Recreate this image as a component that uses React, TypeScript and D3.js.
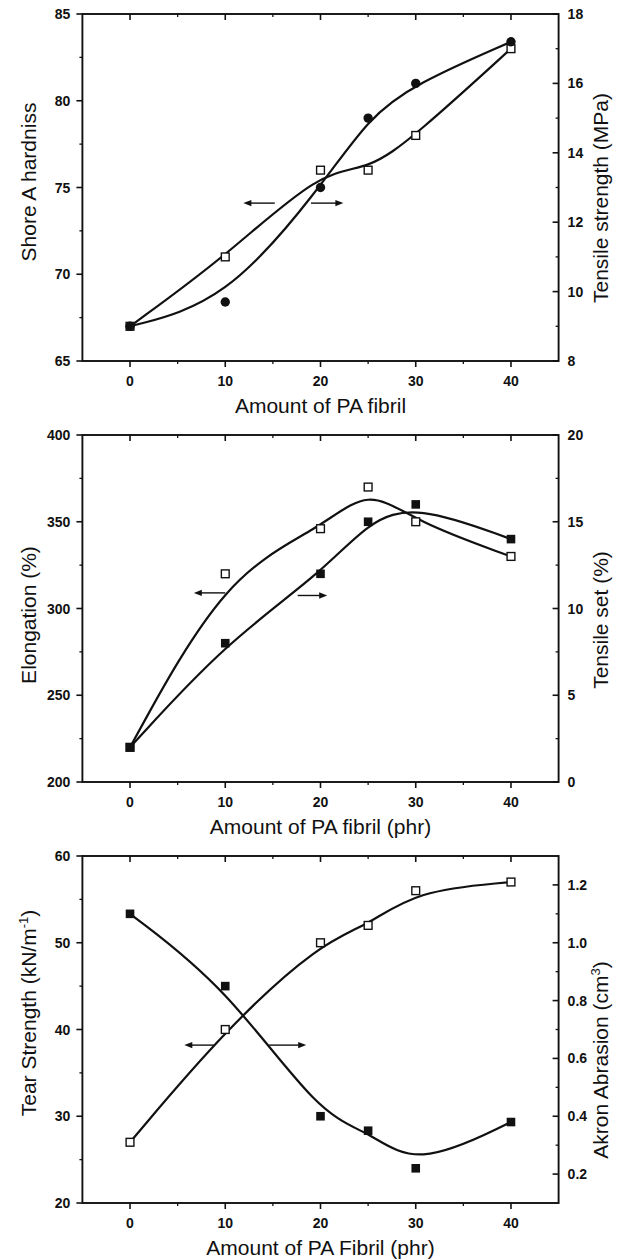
import React from 'react'
import * as d3 from 'd3'

// amount of PA fibril (phr)
const fibril = [0, 10, 20, 25, 30, 40]

// panel 1
const hardness = [67, 71, 76, 76, 78, 83]
const tensileStrength = [9, 9.7, 13, 15, 16, 17.2]
// panel 2
const elongation = [220, 320, 346, 370, 350, 330]
const tensileSet = [2, 8, 12, 15, 16, 14]
// panel 3
const tearStrength = [27, 40, 50, 52, 56, 57]
const akronAbrasion = [1.1, 0.85, 0.4, 0.35, 0.22, 0.38]

const xTicks = [0, 10, 20, 30, 40]
const hardnessTicks = [65, 70, 75, 80, 85]
const tensileTicks = [8, 10, 12, 14, 16, 18]
const elongationTicks = [200, 250, 300, 350, 400]
const setTicks = [0, 5, 10, 15, 20]
const tearTicks = [20, 30, 40, 50, 60]
const abrasionTicks = [0.2, 0.4, 0.6, 0.8, 1.0, 1.2]

const width = 618
const height = 1259
const plotLeft = 82.4
const plotRight = 558.6
const plotH = 347
const font = '"Liberation Sans", Arial, Helvetica, sans-serif'

const x = d3.scaleLinear().domain([-5, 45]).range([plotLeft, plotRight])

const mids = (t: number[]) => d3.pairs(t).map(([a, b]) => (a + b) / 2)

type Series = { values: number[]; axis: 'left' | 'right'; marker: 'open' | 'square' | 'circle' }
type Arrow = { from: number; to: number; y: number }

function Marker({ cx, cy, kind }: { cx: number; cy: number; kind: string }) {
  if (kind === 'circle') return <circle cx={cx} cy={cy} r={4.7} fill="#111" />
  if (kind === 'square') return <rect x={cx - 4.3} y={cy - 4.3} width={8.6} height={8.6} fill="#111" />
  return <rect x={cx - 3.9} y={cy - 3.9} width={7.8} height={7.8} fill="#fff" stroke="#111" strokeWidth={1.4} />
}

function ArrowMark({ x1, x2, y }: { x1: number; x2: number; y: number }) {
  const dir = x2 > x1 ? 1 : -1
  return (
    <g>
      <line x1={x1} x2={x2 - dir * 6} y1={y} y2={y} stroke="#111" strokeWidth={1.4} />
      <path d={`M${x2},${y} L${x2 - dir * 8},${y - 3.2} L${x2 - dir * 8},${y + 3.2} Z`} fill="#111" />
    </g>
  )
}

function Panel(props: {
  top: number
  leftDomain: number[]
  rightDomain: number[]
  leftTicks: number[]
  rightTicks: number[]
  rightFmt: (v: number) => string
  series: Series[]
  arrows: Arrow[]
  leftTitle: React.ReactNode
  rightTitle: React.ReactNode
  xTitle: string
  leftTitleY: number
  rightTitleY: number
}) {
  const { top } = props
  const bottom = top + plotH
  const yL = d3.scaleLinear().domain(props.leftDomain).range([bottom, top])
  const yR = d3.scaleLinear().domain(props.rightDomain).range([bottom, top])
  const xMinor = mids(xTicks)
  const lMinor = mids(props.leftTicks)
  const rMinor = mids(props.rightTicks)

  return (
    <g>
      {/* frame */}
      <rect x={plotLeft} y={top} width={plotRight - plotLeft} height={plotH} fill="none" stroke="#111" strokeWidth={1.9} />

      {/* x ticks bottom (out) and top (in) */}
      {xTicks.map(t => (
        <g key={'xt' + t}>
          <line x1={x(t)} x2={x(t)} y1={bottom} y2={bottom + 6} stroke="#111" strokeWidth={1.6} />
          <line x1={x(t)} x2={x(t)} y1={top} y2={top + 6} stroke="#111" strokeWidth={1.6} />
          <text x={x(t)} y={bottom + 25} textAnchor="middle" fontSize={14} fontWeight="bold" fontFamily={font} fill="#111">{t}</text>
        </g>
      ))}
      {xMinor.map(t => (
        <g key={'xm' + t}>
          <line x1={x(t)} x2={x(t)} y1={bottom} y2={bottom + 3} stroke="#111" strokeWidth={1.3} />
          <line x1={x(t)} x2={x(t)} y1={top} y2={top + 3} stroke="#111" strokeWidth={1.3} />
        </g>
      ))}

      {/* left axis */}
      {props.leftTicks.map(t => (
        <g key={'lt' + t}>
          <line x1={plotLeft - 6} x2={plotLeft} y1={yL(t)} y2={yL(t)} stroke="#111" strokeWidth={1.6} />
          <text x={plotLeft - 12} y={yL(t) + 5} textAnchor="end" fontSize={14} fontWeight="bold" fontFamily={font} fill="#111">{t}</text>
        </g>
      ))}
      {lMinor.map(t => (
        <line key={'lm' + t} x1={plotLeft - 3} x2={plotLeft} y1={yL(t)} y2={yL(t)} stroke="#111" strokeWidth={1.3} />
      ))}

      {/* right axis */}
      {props.rightTicks.map(t => (
        <g key={'rt' + t}>
          <line x1={plotRight - 6} x2={plotRight} y1={yR(t)} y2={yR(t)} stroke="#111" strokeWidth={1.6} />
          <text x={plotRight + 9} y={yR(t) + 5} textAnchor="start" fontSize={14} fontWeight="bold" fontFamily={font} fill="#111">{props.rightFmt(t)}</text>
        </g>
      ))}
      {rMinor.map(t => (
        <line key={'rm' + t} x1={plotRight - 3} x2={plotRight} y1={yR(t)} y2={yR(t)} stroke="#111" strokeWidth={1.3} />
      ))}

      {/* curves + markers */}
      {props.series.map((s, i) => {
        const y = s.axis === 'left' ? yL : yR
        const line = d3.line<number>().x((_, j) => x(fibril[j])).y(d => y(d)).curve(d3.curveBasis)
        return (
          <g key={'s' + i}>
            <path d={line(s.values) || ''} fill="none" stroke="#111" strokeWidth={2.2} />
            {s.values.map((v, j) => (
              <Marker key={j} cx={x(fibril[j])} cy={y(v)} kind={s.marker} />
            ))}
          </g>
        )
      })}

      {props.arrows.map((a, i) => (
        <ArrowMark key={'a' + i} x1={x(a.from)} x2={x(a.to)} y={yL(a.y)} />
      ))}

      {/* titles */}
      <text x={(plotLeft + plotRight) / 2} y={bottom + 52} textAnchor="middle" fontSize={21} fontFamily={font} fill="#111">{props.xTitle}</text>
      <text transform={`translate(36,${props.leftTitleY}) rotate(-90)`} textAnchor="middle" fontSize={21} fontFamily={font} fill="#111">{props.leftTitle}</text>
      <text transform={`translate(608,${props.rightTitleY}) rotate(-90)`} textAnchor="middle" fontSize={21} fontFamily={font} fill="#111">{props.rightTitle}</text>
    </g>
  )
}

export default function App() {
  const fmt0 = (v: number) => String(v)
  const fmt1 = d3.format('.1f')
  return (
    <svg width={width} height={height} style={{ position: 'absolute', left: 0, top: 0, background: '#fff', display: 'block' }}>
      <Panel
        top={14}
        leftDomain={[65, 85]}
        rightDomain={[8, 18]}
        leftTicks={hardnessTicks}
        rightTicks={tensileTicks}
        rightFmt={fmt0}
        series={[
          { values: hardness, axis: 'left', marker: 'open' },
          { values: tensileStrength, axis: 'right', marker: 'circle' },
        ]}
        arrows={[{ from: 15.2, to: 11.9, y: 74.1 }, { from: 19.0, to: 22.4, y: 74.1 }]}
        leftTitle="Shore A hardniss"
        rightTitle="Tensile strength (MPa)"
        xTitle="Amount of PA fibril"
        leftTitleY={182}
        rightTitleY={198}
      />
      <Panel
        top={435}
        leftDomain={[200, 400]}
        rightDomain={[0, 20]}
        leftTicks={elongationTicks}
        rightTicks={setTicks}
        rightFmt={fmt0}
        series={[
          { values: elongation, axis: 'left', marker: 'open' },
          { values: tensileSet, axis: 'right', marker: 'square' },
        ]}
        arrows={[{ from: 10, to: 6.7, y: 309 }, { from: 17.6, to: 20.7, y: 307.5 }]}
        leftTitle="Elongation (%)"
        rightTitle="Tensile set (%)"
        xTitle="Amount of PA fibril (phr)"
        leftTitleY={615}
        rightTitleY={620}
      />
      <Panel
        top={856}
        leftDomain={[20, 60]}
        rightDomain={[0.1, 1.3]}
        leftTicks={tearTicks}
        rightTicks={abrasionTicks}
        rightFmt={fmt1}
        series={[
          { values: tearStrength, axis: 'left', marker: 'open' },
          { values: akronAbrasion, axis: 'right', marker: 'square' },
        ]}
        arrows={[{ from: 8.8, to: 5.7, y: 38.2 }, { from: 14.6, to: 18.5, y: 38.2 }]}
        leftTitle={<>Tear Strength (kN/m<tspan dy={-8} fontSize={13}>-1</tspan><tspan dy={8}>)</tspan></>}
        rightTitle={<>Akron Abrasion (cm<tspan dy={-8} fontSize={13}>3</tspan><tspan dy={8}>)</tspan></>}
        xTitle="Amount of PA Fibril (phr)"
        leftTitleY={1013}
        rightTitleY={1060}
      />
    </svg>
  )
}
